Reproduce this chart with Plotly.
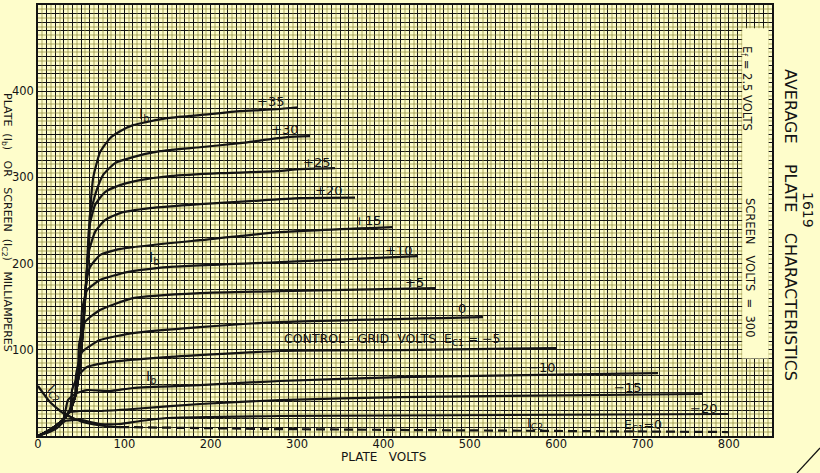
import plotly.graph_objects as go
import numpy as np

# ---------------- data (plate volts, milliamperes) ----------------
ec1_labels = ["+35", "+30", "+25", "+20", "+15", "+10", "+5", "0", "-5", "-10", "-15", "-20"]

ib_p35_v = [0, 13.9, 29.0, 37.1, 42.8, 46.3, 48.6, 52.1, 54.4, 56.7, 59.1, 60.2, 64, 71.8, 83.4, 95.0, 110.0, 149.4, 187.6, 233.9, 276.8, 301.1]
ib_p35_ma = [0, 7.0, 18.6, 30.1, 45.2, 64.9, 84.6, 122.9, 157.7, 192.5, 227.2, 256.2, 300, 329, 345.5, 353.6, 360.6, 368.7, 372.2, 376.8, 379.1, 381.4]

ib_p30_v = [60.2, 67.2, 75.3, 89.2, 110.0, 141.3, 187.6, 233.9, 288.4, 315.0]
ib_p30_ma = [256, 283, 302.6, 316.5, 323.5, 330.4, 335.0, 339.7, 346.7, 347.8]

ib_p25_v = [59.1, 66.0, 77.6, 95.0, 118.1, 152.9, 210.8, 276.8, 303.4, 343.9]
ib_p25_ma = [241, 267.8, 282.9, 291.0, 296.8, 301.4, 304.9, 307.2, 309.6, 310.7]

ib_p20_v = [57.9, 66.0, 77.6, 95.0, 129.7, 187.6, 245.5, 303.4, 367.1]
ib_p20_ma = [209.9, 236.5, 250.4, 258.6, 264.3, 269.0, 272.5, 275.9, 276.5]

ib_p15_v = [55.6, 60.2, 71.8, 89.2, 110.0, 187.6, 280.3, 411.1]
ib_p15_ma = [175, 195.9, 209.9, 215.7, 219.1, 227.2, 236.5, 242.3]

ib_p10_v = [51.0, 56.7, 71.8, 103.1, 149.4, 280.3, 440.1]
ib_p10_ma = [146, 169, 180.9, 190.1, 195.9, 201.7, 208.7]

ib_p5_v = [47.5, 54.4, 71.8, 110.0, 187.6, 280.3, 460.9]
ib_p5_ma = [105.5, 132.2, 146.1, 160.0, 165.8, 168.1, 171.6]

ib_0_v = [44.0, 51.0, 71.8, 110.0, 187.6, 280.3, 515.3]
ib_0_ma = [70.7, 97.4, 111.3, 119.4, 126.4, 132.2, 138.0]

ib_m5_v = [39.4, 46.3, 56.7, 83.4, 149.4, 280.3, 419.2, 601.0]
ib_m5_ma = [53.3, 69.6, 80.0, 85.8, 91.6, 98.6, 99.7, 102.0]

ib_m10_v = [34.7, 42.8, 56.7, 83.4, 110.0, 187.6, 280.3, 419.2, 718.0]
ib_m10_ma = [41.7, 48.7, 53.3, 52.2, 55.7, 59.1, 63.8, 68.4, 73.0]

ib_m15_v = [0, 13.9, 29.0, 34.7, 48.6, 71.8, 110.0, 187.6, 280.3, 419.2, 769.0]
ib_m15_ma = [0, 7.0, 18.6, 26.7, 29.0, 29.0, 31.3, 37.1, 41.7, 45.2, 48.7]

ib_m20_v = [0, 13.9, 22.0, 31.3, 48.6, 71.8, 95.0, 118.1, 149.4, 280.3, 799.0]
ib_m20_ma = [0, 5.0, 9.3, 17.4, 18.6, 13.9, 13.9, 17.4, 20.9, 23.2, 25.5]

ic2_v = [0, 13.9, 29.0, 40.5, 52.1, 68.3, 91.5, 95.0]
ic2_ma = [58, 39.4, 26.7, 20.9, 16.2, 12.8, 10.4, 10.4]
ic2_dash_v = [95.0, 268.7, 419.2, 581.4, 799.0]
ic2_dash_ma = [10.4, 8.1, 7.0, 5.8, 4.6]

x_ticks = [0, 100, 200, 300, 400, 500, 600, 700, 800]
y_ticks = [100, 200, 300, 400]

# ---------------- figure ----------------
W, H = 820, 473
L, R, T, B = 38, 48, 5, 37
XMAX, YMAX = 850, 500
BG = "#FEFDCB"
INK = "#141414"
OLIVE = "rgba(140,136,55,0.36)"
FONT = "DejaVu Sans"

def px(xp, yp):
    return (xp - L) / (W - L - R), (H - B - yp) / (H - T - B)

fig = go.Figure()

env_v = ib_p35_v[:12]
env_ma = ib_p35_ma[:12]

series = [
    (ib_p35_v, ib_p35_ma, False),
    (ib_p30_v, ib_p30_ma, True),
    (ib_p25_v, ib_p25_ma, True),
    (ib_p20_v, ib_p20_ma, True),
    (ib_p15_v, ib_p15_ma, True),
    (ib_p10_v, ib_p10_ma, True),
    (ib_p5_v, ib_p5_ma, True),
    (ib_0_v, ib_0_ma, True),
    (ib_m5_v, ib_m5_ma, True),
    (ib_m10_v, ib_m10_ma, True),
    (ib_m15_v, ib_m15_ma, False),
    (ib_m20_v, ib_m20_ma, False),
]
for (vv, mm, use_env) in series:
    if use_env:
        keep = [(v, m) for v, m in zip(env_v, env_ma) if m < mm[0] and v < vv[0]]
        vv = [k[0] for k in keep] + vv
        mm = [k[1] for k in keep] + mm
    fig.add_trace(go.Scatter(x=vv, y=mm, mode="lines", xaxis="x2", yaxis="y2",
                             line=dict(color=INK, width=2.2, shape="spline", smoothing=0.5),
                             hoverinfo="skip", showlegend=False))

fig.add_trace(go.Scatter(x=ic2_v, y=ic2_ma, mode="lines", xaxis="x2", yaxis="y2",
                         line=dict(color=INK, width=2.2, shape="spline", smoothing=0.5),
                         hoverinfo="skip", showlegend=False))
fig.add_trace(go.Scatter(x=ic2_dash_v, y=ic2_dash_ma, mode="lines", xaxis="x2", yaxis="y2",
                         line=dict(color=INK, width=2.2, dash="9px,5px"),
                         hoverinfo="skip", showlegend=False))
fig.add_trace(go.Scatter(x=[None], y=[None], mode="lines", showlegend=False, hoverinfo="skip"))

grid_x_fine = list(np.arange(5, XMAX, 10))
grid_y_fine = list(np.arange(5, YMAX, 10))

fig.update_layout(
    width=W, height=H,
    margin=dict(l=L, r=R, t=T, b=B, pad=0, autoexpand=False),
    paper_bgcolor=BG, plot_bgcolor=BG,
    showlegend=False,
    font=dict(family=FONT, color=INK, size=11),
    xaxis=dict(range=[0, XMAX], tickmode="array", tickvals=grid_x_fine, showticklabels=False,
               showgrid=True, gridcolor=OLIVE, gridwidth=2, zeroline=False, ticks="",
               minor=dict(dtick=10, tick0=0, showgrid=True, gridcolor=INK, gridwidth=0.9),
               showline=False, automargin=False),
    yaxis=dict(range=[0, YMAX], tickmode="array", tickvals=grid_y_fine, showticklabels=False,
               showgrid=True, gridcolor=OLIVE, gridwidth=2, zeroline=False, ticks="",
               minor=dict(dtick=10, tick0=0, showgrid=True, gridcolor=INK, gridwidth=0.9),
               showline=False, automargin=False),
    xaxis2=dict(range=[0, XMAX], overlaying="x", anchor="y2", tickmode="array",
                tickvals=list(range(0, XMAX + 1, 50)),
                ticktext=[str(v) if v in x_ticks else "" for v in range(0, XMAX + 1, 50)],
                showgrid=True, gridcolor=INK, gridwidth=1.3, zeroline=False, ticks="",
                ticklabelstandoff=-4,
                showline=True, linecolor=INK, linewidth=1.5, mirror=True, automargin=False,
                tickfont=dict(size=11.5, family=FONT, color=INK)),
    yaxis2=dict(range=[0, YMAX], overlaying="y", anchor="x2", tickmode="array",
                tickvals=list(range(0, YMAX + 1, 50)),
                ticktext=[str(v) if v in y_ticks else "" for v in range(0, YMAX + 1, 50)],
                showgrid=True, gridcolor=INK, gridwidth=1.3, zeroline=False, ticks="",
                showline=True, linecolor=INK, linewidth=1.5, mirror=True, automargin=False,
                tickfont=dict(size=11.5, family=FONT, color=INK)),
)

# blank box on the right side of the grid
fig.add_shape(type="rect", xref="x", yref="y", x0=815.5, x1=846, y0=90, y1=473,
              fillcolor=BG, line=dict(width=0), layer="above")
# diagonal stroke at the lower right corner
x0p, y0p = px(797, 473)
x1p, y1p = px(820, 448)
fig.add_shape(type="line", xref="paper", yref="paper", x0=x0p, y0=y0p, x1=x1p, y1=y1p,
              line=dict(color=INK, width=1.2))

ann = []
def px_text(xp, yp, text, size=11, angle=0):
    xx, yy = px(xp, yp)
    ann.append(dict(x=xx, y=yy, xref="paper", yref="paper", text=text, showarrow=False,
                    xanchor="center", yanchor="middle",
                    font=dict(size=size, family=FONT, color=INK), textangle=angle))

label_pos = [(270, 102), (284, 129), (316, 162), (328, 190), (367, 220), (398, 250),
             (414, 282), (462, 308), (392, 339), (541, 367), (627, 387), (703, 408)]
for lab, (xp, yp) in zip(ec1_labels, label_pos):
    if lab == "-5":
        px_text(xp, yp, "CONTROL - GRID  VOLTS  E<sub>C1</sub> = −5", size=12.5)
    else:
        px_text(xp, yp, lab.replace("-", "−"), size=13)

px_text(144, 115, "I<sub>b</sub>", size=14)
px_text(154, 258, "I<sub>b</sub>", size=14)
px_text(151, 377, "I<sub>b</sub>", size=14)
px_text(55, 393, "I<sub>C2</sub>", size=13, angle=45)
px_text(535, 423, "I<sub>C2</sub>", size=13)
px_text(643, 425, "E<sub>C1</sub>=0", size=12.5)

px_text(383, 457, "PLATE   VOLTS", size=12)
px_text(7, 222, "PLATE  (I<sub>b</sub>)   OR   SCREEN  (I<sub>C2</sub>)   MILLIAMPERES", size=11, angle=90)
px_text(746, 88, "E<sub>f</sub> = 2.5 VOLTS", size=11.5, angle=90)
px_text(750, 268, "SCREEN   VOLTS  =  300", size=11.5, angle=90)
px_text(790, 225, "AVERAGE    PLATE    CHARACTERISTICS", size=16, angle=90)
px_text(808, 210, "1619", size=14, angle=90)

fig.update_layout(annotations=ann)
fig.write_html("out.html", config={"displayModeBar": False},
               post_script="document.body.style.margin='0';document.body.style.padding='0';"
                           "document.body.style.overflow='hidden';")
